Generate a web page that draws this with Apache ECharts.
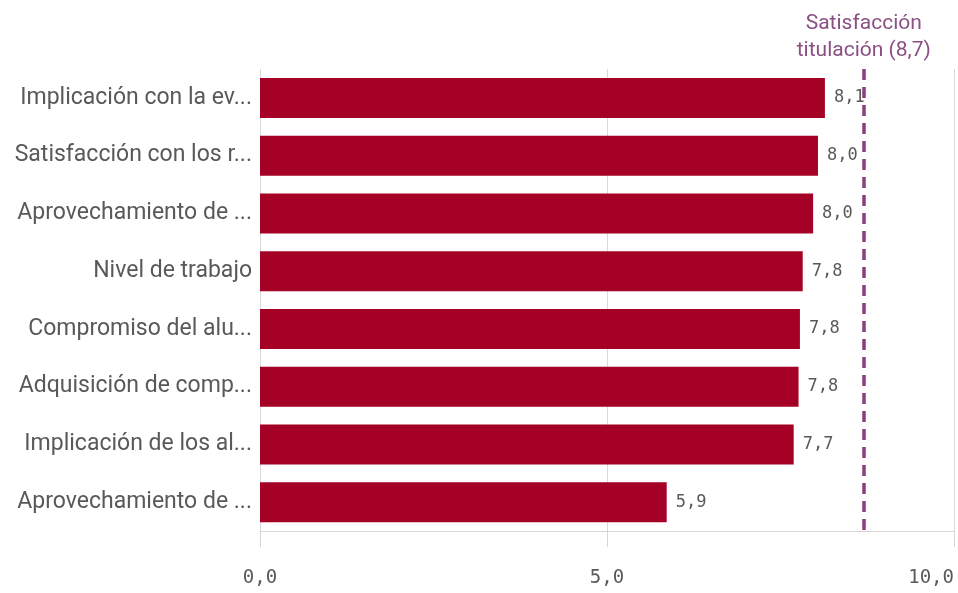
<!DOCTYPE html>
<html>
<head>
<meta charset="utf-8">
<script src="https://cdn.jsdelivr.net/npm/echarts@6/dist/echarts.min.js"></script>
<style>html,body{margin:0;padding:0;background:#fff}#c{width:958px;height:593px}</style>
</head>
<body>
<div id="c"></div>
<script>
const categories = [
  "Implicación con la ev...",
  "Satisfacción con los r...",
  "Aprovechamiento de ...",
  "Nivel de trabajo",
  "Compromiso del alu...",
  "Adquisición de comp...",
  "Implicación de los al...",
  "Aprovechamiento de ..."
];
const values = [8.14, 8.04, 7.97, 7.82, 7.78, 7.76, 7.69, 5.86];
const referenceValue = 8.7;
const referenceLabel = "Satisfacción\ntitulación (8,7)";
const xTicks = [0, 5, 10];

const fmt = v => v.toFixed(1).replace('.', ',');
const chart = echarts.init(document.getElementById('c'));
chart.setOption({
  backgroundColor: '#fff',
  animation: false,
  grid: { left: 260, right: 4, top: 69, bottom: 62, containLabel: false },
  xAxis: {
    type: 'value', min: xTicks[0], max: xTicks[xTicks.length - 1], interval: 5,
    axisLine: { show: true, lineStyle: { color: '#d6d6d6', width: 1 } },
    axisTick: { show: true, length: 16, lineStyle: { color: '#d6d6d6' } },
    splitLine: { show: true, lineStyle: { color: '#d9d9d9', width: 1 } },
    axisLabel: {
      formatter: v => fmt(v), margin: 38, color: '#595959',
      fontFamily: 'DejaVu Sans Mono', fontSize: 19, alignMaxLabel: 'right'
    }
  },
  yAxis: {
    type: 'category', data: categories, inverse: true,
    axisLine: { show: false }, axisTick: { show: false },
    axisLabel: { color: '#595959', fontFamily: 'Roboto', fontSize: 23, margin: 8 }
  },
  series: [{
    type: 'bar', data: values, barWidth: 40,
    itemStyle: { color: '#a50026' },
    label: {
      show: true, position: 'right', distance: 9,
      formatter: p => fmt(p.value),
      color: '#595959', fontFamily: 'DejaVu Sans Mono', fontSize: 17
    },
    markLine: {
      silent: true, symbol: 'none',
      lineStyle: { color: '#8b3f7e', width: 3.5, type: [11, 7] },
      label: {
        show: true, position: 'start', formatter: referenceLabel,
        color: '#8b4f84', fontFamily: 'Roboto', fontSize: 21, lineHeight: 27, distance: 5
      },
      data: [{ xAxis: referenceValue }]
    }
  }]
});
</script>
</body>
</html>
